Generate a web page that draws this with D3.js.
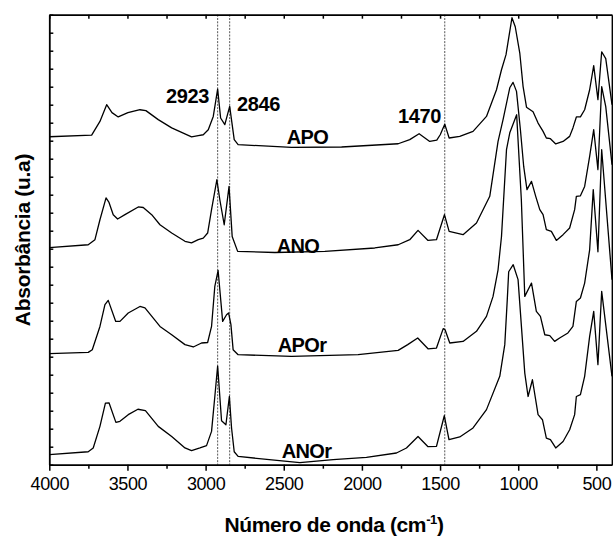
<!DOCTYPE html>
<html><head><meta charset="utf-8">
<script src="https://cdn.jsdelivr.net/npm/d3@7"></script>
<style>
body{margin:0;background:#fff}
svg{display:block}
text{font-family:"Liberation Sans",Arial,sans-serif;fill:#000}
</style>
</head><body>
<svg id="chart" width="613" height="537"></svg>
<script>
// FTIR spectra: [wavenumber (cm-1), absorbance (a.u., stacked)]
const APO = [[4000,18.22],[3729,18.31],[3676,19.07],[3633,20.0],[3599,19.56],[3559,19.32],[3497,19.56],[3420,19.72],[3382,19.67],[3303,19.17],[3217,18.71],[3090,18.21],[3047,18.28],[3015,18.33],[2983,18.61],[2951,19.35],[2923,20.87],[2904,19.26],[2877,18.89],[2846,19.91],[2817,18.06],[2792,17.78],[2450,17.63],[2130,17.65],[1768,17.83],[1694,18.06],[1634,18.39],[1566,17.96],[1521,18.03],[1499,18.33],[1470,18.92],[1442,18.15],[1374,18.24],[1289,18.52],[1203,19.35],[1139,20.83],[1107,21.94],[1078,22.78],[1040,24.83],[1019,24.33],[990,22.87],[969,21.02],[947,19.86],[905,19.61],[873,18.98],[841,18.52],[820,18.15],[794,18.11],[760,17.82],[713,17.96],[671,18.24],[650,18.71],[628,19.32],[602,19.32],[575,19.72],[543,20.83],[517,22.17],[490,20.28],[466,22.94],[440,22.56],[400,20.0]];

const ANO = [[4000,12.06],[3751,12.22],[3708,12.5],[3676,13.61],[3637,14.82],[3618,14.57],[3591,13.89],[3563,13.65],[3516,13.89],[3431,14.32],[3399,14.29],[3345,13.89],[3292,13.33],[3217,12.87],[3132,12.41],[3090,12.32],[3047,12.5],[3015,12.59],[2987,12.87],[2962,14.17],[2928,15.83],[2909,14.72],[2881,13.33],[2850,15.46],[2830,12.68],[2795,11.85],[2557,11.79],[2237,11.85],[1918,12.04],[1768,12.22],[1694,12.5],[1641,13.02],[1577,12.46],[1523,12.5],[1472,13.89],[1442,12.96],[1353,12.78],[1267,13.43],[1182,14.91],[1129,17.96],[1097,19.17],[1054,20.94],[1033,21.24],[1011,20.74],[986,18.61],[965,16.57],[944,15.28],[915,15.74],[888,14.91],[862,14.17],[841,13.89],[820,13.06],[788,12.96],[756,12.46],[713,12.78],[671,13.15],[639,14.17],[628,14.91],[602,14.94],[575,15.46],[543,17.13],[517,18.61],[490,16.39],[466,21.0],[440,19.89],[400,16.67]];

const APOr = [[4000,6.17],[3751,6.24],[3725,6.39],[3676,7.68],[3644,8.89],[3623,9.13],[3575,7.96],[3548,7.96],[3495,8.43],[3420,8.79],[3388,8.71],[3292,7.68],[3217,7.22],[3132,6.67],[3079,6.54],[3026,6.76],[2987,6.79],[2962,7.68],[2941,9.91],[2920,10.79],[2891,7.96],[2866,8.33],[2853,8.43],[2838,7.78],[2824,6.39],[2792,6.11],[2450,6.02],[2024,6.11],[1768,6.35],[1707,6.67],[1643,7.04],[1577,6.44],[1523,6.48],[1480,7.56],[1468,7.5],[1438,6.76],[1353,6.85],[1267,7.41],[1203,8.24],[1161,9.35],[1129,10.83],[1107,12.68],[1075,17.5],[1054,18.44],[1010,19.44],[980,14.72],[958,9.35],[915,10.09],[884,8.52],[858,8.24],[830,7.22],[798,7.17],[767,6.85],[735,7.04],[682,7.32],[650,7.68],[628,9.07],[602,9.26],[575,10.09],[543,11.94],[520,15.28],[490,11.83],[466,17.5],[400,10.28]];

const ANOr = [[4000,0.56],[3751,0.72],[3719,0.93],[3676,2.13],[3641,3.42],[3618,3.44],[3574,2.35],[3548,2.41],[3495,2.78],[3433,3.08],[3385,3.0],[3303,2.13],[3217,1.57],[3132,0.93],[3090,0.78],[3036,0.93],[2994,1.06],[2962,1.85],[2941,3.79],[2923,5.48],[2898,2.44],[2870,2.22],[2848,3.79],[2834,2.04],[2817,0.72],[2792,0.46],[2397,0.11],[2184,0.28],[1971,0.41],[1779,0.65],[1715,0.93],[1641,1.57],[1577,1.0],[1523,1.02],[1473,2.72],[1443,1.39],[1374,1.54],[1289,2.04],[1203,3.06],[1118,4.91],[1086,6.67],[1070,9.17],[1061,10.72],[1032,11.11],[1001,10.28],[958,5.09],[937,3.79],[909,4.72],[873,2.78],[845,2.5],[820,1.48],[794,1.39],[760,0.93],[713,1.29],[671,1.94],[639,2.78],[628,3.79],[602,3.89],[575,4.91],[543,7.13],[517,8.52],[490,5.56],[466,9.63],[400,4.91]];

const seriesNames = ["APO", "ANO", "APOr", "ANOr"];
const seriesData = [APO, ANO, APOr, ANOr];
const xMajorTicks = [4000, 3500, 3000, 2500, 2000, 1500, 1000, 500];
const xMinorTicks = [3750, 3250, 2750, 2250, 1750, 1250, 750];
const bandMarks = [2923, 2846, 1470];

const svg = d3.select("#chart");
const L = 49.3, R = 612, T = 14.7, B = 464.7;
const x = d3.scaleLinear().domain([4000, 400]).range([L, R]);
const y = d3.scaleLinear().domain([0, 25]).range([B, T]);

svg.append("defs").append("clipPath").attr("id", "plotClip")
  .append("rect").attr("x", L).attr("y", T).attr("width", R - L).attr("height", B - T);

// dotted guide lines at the assigned bands
svg.append("g").selectAll("line").data(bandMarks).join("line")
  .attr("x1", d => x(d)).attr("x2", d => x(d))
  .attr("y1", T).attr("y2", B)
  .attr("stroke", "#444").attr("stroke-width", 0.9)
  .attr("stroke-dasharray", "2,1.3");

// spectra
const line = d3.line().x(d => x(d[0])).y(d => y(d[1]));
svg.append("g").attr("clip-path", "url(#plotClip)")
  .selectAll("path").data(seriesData).join("path")
  .attr("d", line).attr("fill", "none")
  .attr("stroke", "#000").attr("stroke-width", 1.3)
  .attr("stroke-linejoin", "round");

// axes
const axisStyle = g => {
  g.selectAll(".domain").attr("stroke", "#000").attr("stroke-width", 1.8);
  g.selectAll(".tick line").attr("stroke", "#000").attr("stroke-width", 1.5);
};

svg.append("g").attr("transform", `translate(0,${B})`)
  .call(d3.axisBottom(x).tickValues(xMajorTicks).tickFormat(d3.format("d"))
    .tickSizeInner(6).tickSizeOuter(0).tickPadding(7))
  .call(axisStyle)
  .call(g => g.selectAll(".tick text").attr("font-size", 18).attr("letter-spacing", -0.4)
    .attr("font-family", "Liberation Sans, Arial, sans-serif"));

svg.append("g").attr("transform", `translate(0,${B})`)
  .call(d3.axisBottom(x).tickValues(xMinorTicks).tickSizeInner(4).tickSizeOuter(0).tickFormat(""))
  .call(axisStyle)
  .call(g => g.select(".domain").remove());

svg.append("g").attr("transform", `translate(0,${T})`)
  .call(d3.axisTop(x).tickValues(xMajorTicks.concat(xMinorTicks)).tickSizeInner(-4).tickSizeOuter(0).tickFormat(""))
  .call(axisStyle);

svg.append("g").attr("transform", `translate(${L},0)`)
  .call(d3.axisLeft(y).tickValues(d3.range(0, 26)).tickSizeInner(-4).tickSizeOuter(0).tickFormat(""))
  .call(axisStyle);

svg.append("g").attr("transform", `translate(${R},0)`)
  .call(d3.axisRight(y).tickValues([]).tickSizeOuter(0))
  .call(axisStyle);

// band labels
const bandLabelPos = [[166, 103], [237, 110.7], [398, 123.3]];
svg.append("g").selectAll("text").data(bandMarks).join("text")
  .attr("x", (d, i) => bandLabelPos[i][0]).attr("y", (d, i) => bandLabelPos[i][1])
  .attr("font-size", 20).attr("font-weight", "bold").attr("letter-spacing", -0.4)
  .text(d => d);

// series labels
const seriesLabelPos = [[286.7, 144], [276.7, 253.3], [277.7, 352.3], [281.7, 458.3]];
svg.append("g").selectAll("text").data(seriesNames).join("text")
  .attr("x", (d, i) => seriesLabelPos[i][0]).attr("y", (d, i) => seriesLabelPos[i][1])
  .attr("font-size", 20).attr("font-weight", "bold").attr("letter-spacing", -0.6)
  .text(d => d);

// axis titles
const xt = svg.append("text").attr("x", 334).attr("y", 531.7)
  .attr("text-anchor", "middle").attr("font-size", 21).attr("font-weight", "bold")
  .attr("letter-spacing", -0.4);
xt.append("tspan").text("Número de onda (cm");
xt.append("tspan").attr("dy", -8).attr("font-size", 13).text("-1");
xt.append("tspan").attr("dy", 8).text(")");

svg.append("text")
  .attr("transform", "translate(30,240) rotate(-90)")
  .attr("text-anchor", "middle").attr("font-size", 21).attr("font-weight", "bold")
  .attr("letter-spacing", -0.3)
  .text("Absorbância (u.a)");
</script>
</body></html>
